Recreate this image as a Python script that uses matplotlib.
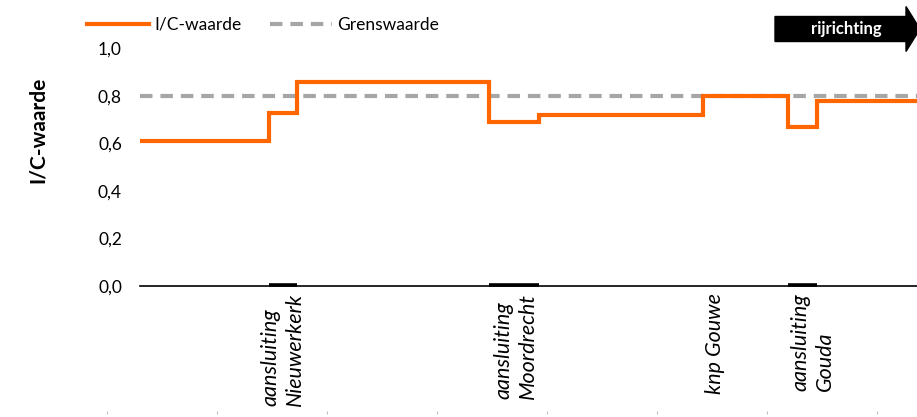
import matplotlib
matplotlib.use("Agg")
import matplotlib.pyplot as plt
from matplotlib.patches import FancyArrow
from matplotlib.lines import Line2D
import matplotlib.transforms as mtransforms

# ---- data ----
edges = [0, 12.9, 15.7, 34.9, 39.9, 56.3, 64.8, 67.7, 77.7]
ic_values = [0.61, 0.73, 0.86, 0.69, 0.72, 0.80, 0.67, 0.78]
limit_value = 0.8
junction_start = [12.9, 34.9, 64.8]
junction_end = [15.7, 39.9, 67.7]
label_pos = [14.3, 37.6, 57.5, 67.3]
label_text = ["aansluiting\nNieuwerkerk", "aansluiting\nMoordrecht", "knp Gouwe", "aansluiting\nGouda"]
yticks = [0.0, 0.2, 0.4, 0.6, 0.8, 1.0]
ytick_labels = ["0,0", "0,2", "0,4", "0,6", "0,8", "1,0"]
bottom_ticks = [0.5, 1.5, 2.5, 3.5, 4.5, 5.5, 6.5, 7.5]

ORANGE = "#FF6600"
GRAY = "#A6A6A6"
FONT = ["Lato", "DejaVu Sans"]
plt.rcParams["font.family"] = FONT

W, H = 917, 417
fig = plt.figure(figsize=(W / 100, H / 100), dpi=100)
ax = fig.add_axes([140 / W, 1 - 286 / H, (W - 140) / W, (286 - 48.5) / H])

ax.stairs(ic_values, edges, baseline=None, color=ORANGE, lw=3, zorder=3)
dash_line, = ax.plot([edges[0], edges[-1]], [limit_value, limit_value], color=GRAY, lw=3,
                     zorder=2)
dash_line.set_dashes((3, 1.9))

ax.hlines([0.004] * len(junction_start), junction_start, junction_end, color="black", lw=2.6,
          zorder=4, clip_on=False)

ax.set_xlim(edges[0], edges[-1])
ax.set_ylim(0, 1.0)
ax.set_yticks(yticks)
ax.set_yticklabels(ytick_labels, fontsize=12.5)
ax.tick_params(axis="y", length=0, pad=13)
ax.set_xticks([])
for s in ["top", "right", "left"]:
    ax.spines[s].set_visible(False)
ax.spines["bottom"].set_color("black")
ax.spines["bottom"].set_linewidth(1.2)

trans = mtransforms.blended_transform_factory(ax.transData, ax.transAxes)
offset = mtransforms.ScaledTranslation(0, -7 / 100, fig.dpi_scale_trans)
for xp, txt in zip(label_pos, label_text):
    ax.text(xp, 0, txt, transform=trans + offset, rotation=90, ha="center", va="top",
            multialignment="left", fontsize=15.5, style="italic", linespacing=1.3)

fig.text(38 / W, 1 - 130 / H, "I/C-waarde", rotation=90, ha="center", va="center",
         fontsize=15, fontweight="bold")

handles = [Line2D([], [], color=ORANGE, lw=3),
           Line2D([], [], color=GRAY, lw=3, dashes=(3, 1.9))]
fig.legend(handles, ["I/C-waarde", "Grenswaarde"], loc="center left",
           bbox_to_anchor=(80 / W, 1 - 25 / H), ncol=2, frameon=False, fontsize=12.5,
           handlelength=3.6, handletextpad=0.3, columnspacing=1.6, borderaxespad=0)

arrow = FancyArrow(7.75, (H - 29) / 100, 1.45, 0, width=0.25, head_width=0.45,
                   head_length=0.14, length_includes_head=True,
                   transform=fig.dpi_scale_trans, color="black")
fig.patches.append(arrow)
fig.text(846 / W, 1 - 29 / H, "rijrichting", ha="center", va="center", color="white",
         fontsize=12, fontweight="bold")

ax2 = fig.add_axes([52 / W, 1 - 414 / H, 880 / W, 0.001])
ax2.set_xlim(0, 8)
ax2.set_xticks(bottom_ticks)
ax2.set_xticklabels([])
ax2.set_yticks([])
for s in ax2.spines.values():
    s.set_visible(False)
ax2.tick_params(axis="x", bottom=False, top=True, direction="out", length=2.5,
                color="#BFBFBF", width=0.8)
ax2.patch.set_visible(False)

fig.savefig("out.png", dpi=100)
